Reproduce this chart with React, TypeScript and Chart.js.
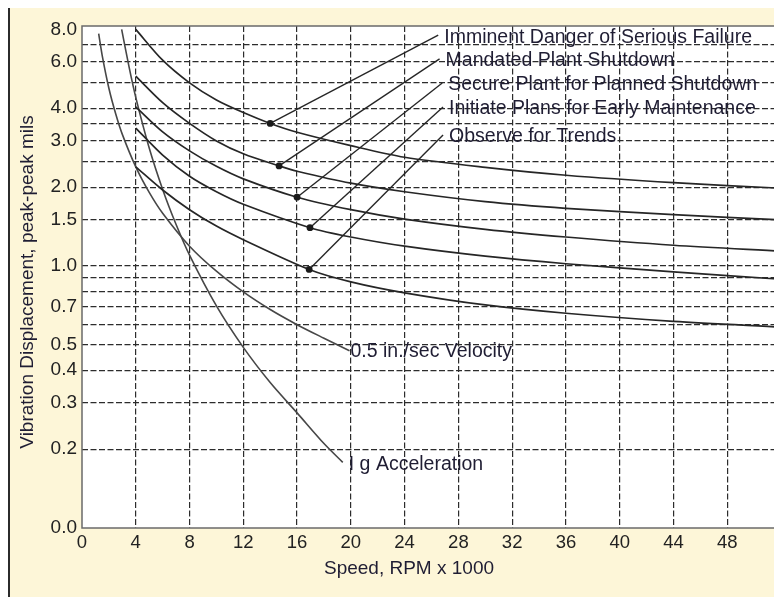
import React, { useEffect, useRef } from 'react';
import { Chart, registerables } from 'chart.js';

Chart.register(...registerables);

// ---------- data ----------
const X_MIN = 0;
const X_MAX = 52;
const Y_MIN = 0.1;
const Y_MAX = 8.24;

const X_TICKS = [0, 4, 8, 12, 16, 20, 24, 28, 32, 36, 40, 44, 48];
const Y_TICK_VALUES = [0.1, 0.2, 0.3, 0.4, 0.5, 0.6, 0.7, 0.8, 0.9, 1.0, 1.5, 2.0, 2.5, 3.0, 3.5, 4.0, 5.0, 6.0, 7.0, 8.0];
const Y_TICK_LABELS = ['0.0', '0.2', '0.3', '0.4', '0.5', '', '0.7', '', '', '1.0', '1.5', '2.0', '', '3.0', '', '4.0', '', '6.0', '', '8.0'];

const X_TITLE = 'Speed, RPM x 1000';
const Y_TITLE = 'Vibration Displacement, peak-peak mils';

const ZONE_NAMES = [
  'Imminent Danger of Serious Failure',
  'Mandated Plant Shutdown',
  'Secure Plant for Planned Shutdown',
  'Initiate Plans for Early Maintenance',
  'Observe for Trends',
];

const DANGER_X = [4, 6, 8, 10, 12, 14, 16, 20, 24, 30, 36, 44, 52];
const DANGER_Y = [8.0, 6.1, 5.0, 4.3, 3.85, 3.5, 3.24, 2.88, 2.6, 2.38, 2.22, 2.08, 1.98];
const SHUTDOWN_X = [4, 6, 8, 10, 12, 14.66, 16, 20, 24, 30, 36, 44, 52];
const SHUTDOWN_Y = [5.3, 4.2, 3.5, 3.0, 2.68, 2.41, 2.3, 2.07, 1.92, 1.76, 1.66, 1.57, 1.5];
const SECURE_X = [4, 6, 8, 10, 12, 16, 20, 24, 30, 36, 44, 52];
const SECURE_Y = [4.05, 3.25, 2.75, 2.4, 2.15, 1.83, 1.64, 1.51, 1.38, 1.29, 1.2, 1.14];
const INITIATE_X = [4, 6, 8, 10, 12, 16.96, 20, 24, 30, 36, 44, 52];
const INITIATE_Y = [3.36, 2.65, 2.2, 1.92, 1.72, 1.4, 1.29, 1.19, 1.09, 1.02, 0.95, 0.89];
const OBSERVE_X = [4, 6, 8, 10, 12, 16.9, 20, 24, 30, 36, 44, 52];
const OBSERVE_Y = [2.39, 1.95, 1.64, 1.42, 1.26, 0.97, 0.87, 0.79, 0.71, 0.66, 0.615, 0.585];

const VELOCITY_LABEL = '0.5 in./sec Velocity';
const VELOCITY_X = [1.24, 1.5, 2, 2.5, 3, 4, 5, 6, 8, 10, 12, 14, 16, 18, 19.9];
const VELOCITY_Y = [7.7, 6.37, 4.77, 3.82, 3.18, 2.39, 1.91, 1.59, 1.19, 0.955, 0.796, 0.682, 0.597, 0.53, 0.475];
const ACCEL_LABEL = 'I g Acceleration';
const ACCEL_X = [2.95, 3.5, 4, 5, 6, 7, 8, 10, 12, 14, 16, 18, 19.4];
const ACCEL_Y = [8.0, 5.75, 4.4, 2.82, 1.96, 1.44, 1.1, 0.704, 0.489, 0.359, 0.275, 0.21, 0.178];

// marker dots on the zone curves and the ends of their leader lines (data units)
const DOT_X = [14.0, 14.66, 16.0, 16.96, 16.9];
const DOT_Y = [3.5, 2.41, 1.83, 1.4, 0.97];
const LEAD_X = [26.5, 26.6, 26.8, 26.86, 26.86];
const LEAD_Y = [7.6, 6.17, 4.99, 4.04, 3.16];

// ---------- styling ----------
const FONT = '"Liberation Sans", Arial, Helvetica, sans-serif';
const TEXT_COLOR = '#1f1d33';
const CURVE_COLOR = '#262626';
const GUIDE_COLOR = '#474747';
const GRID_COLOR = '#2c2c2c';

const zip = (xs: number[], ys: number[]) => xs.map((x, i) => ({ x, y: ys[i] }));

const App = () => {
  const ref = useRef<HTMLCanvasElement | null>(null);

  useEffect(() => {
    document.documentElement.style.overflow = 'hidden';
    document.body.style.overflow = 'hidden';
    const canvas = ref.current;
    if (!canvas) return;

    const zones = [
      [DANGER_X, DANGER_Y],
      [SHUTDOWN_X, SHUTDOWN_Y],
      [SECURE_X, SECURE_Y],
      [INITIATE_X, INITIATE_Y],
      [OBSERVE_X, OBSERVE_Y],
    ];

    const datasets: any[] = zones.map(([xs, ys], i) => ({
      label: ZONE_NAMES[i],
      data: zip(xs, ys),
      borderColor: CURVE_COLOR,
      borderWidth: 1.7,
      pointRadius: 0,
      tension: 0.3,
      fill: false,
    }));
    datasets.push({
      label: VELOCITY_LABEL,
      data: zip(VELOCITY_X, VELOCITY_Y),
      borderColor: GUIDE_COLOR,
      borderWidth: 1.6,
      pointRadius: 0,
      tension: 0.3,
      fill: false,
    });
    datasets.push({
      label: ACCEL_LABEL,
      data: zip(ACCEL_X, ACCEL_Y),
      borderColor: GUIDE_COLOR,
      borderWidth: 1.6,
      pointRadius: 0,
      tension: 0.3,
      fill: false,
    });

    const plotBg = {
      id: 'plotBg',
      beforeDraw(chart: any) {
        const { ctx, chartArea: a } = chart;
        ctx.save();
        ctx.fillStyle = '#ffffff';
        ctx.fillRect(a.left, a.top, a.right - a.left, a.bottom - a.top);
        ctx.restore();
      },
    };

    const annotations = {
      id: 'annotations',
      afterDatasetsDraw(chart: any) {
        const { ctx, chartArea: a } = chart;
        const xs = chart.scales.x;
        const ys = chart.scales.y;
        ctx.save();
        ZONE_NAMES.forEach((name, i) => {
          const x0 = xs.getPixelForValue(DOT_X[i]);
          const y0 = ys.getPixelForValue(DOT_Y[i]);
          const x1 = xs.getPixelForValue(LEAD_X[i]);
          const y1 = ys.getPixelForValue(LEAD_Y[i]);
          ctx.strokeStyle = CURVE_COLOR;
          ctx.lineWidth = 1.4;
          ctx.setLineDash([]);
          ctx.beginPath();
          ctx.moveTo(x0, y0);
          ctx.lineTo(x1, y1);
          ctx.stroke();
          ctx.fillStyle = '#1a1a1a';
          ctx.beginPath();
          ctx.arc(x0, y0, 3.4, 0, Math.PI * 2);
          ctx.fill();
          ctx.fillStyle = TEXT_COLOR;
          ctx.font = `19.5px ${FONT}`;
          ctx.textAlign = 'left';
          ctx.textBaseline = 'middle';
          ctx.fillText(name, x1 + 6, y1 + 2);
        });
        ctx.font = `19.5px ${FONT}`;
        ctx.fillStyle = TEXT_COLOR;
        const vx = xs.getPixelForValue(VELOCITY_X[VELOCITY_X.length - 1]);
        const vy = ys.getPixelForValue(VELOCITY_Y[VELOCITY_Y.length - 1]);
        ctx.fillText(VELOCITY_LABEL, vx + 1, vy + 1);
        const ax = xs.getPixelForValue(ACCEL_X[ACCEL_X.length - 1]);
        const ay = ys.getPixelForValue(ACCEL_Y[ACCEL_Y.length - 1]);
        ctx.fillText(ACCEL_LABEL, ax + 6, ay + 2);
        ctx.strokeStyle = '#6a6a6a';
        ctx.lineWidth = 1.5;
        ctx.strokeRect(a.left, a.top, a.right - a.left, a.bottom - a.top);
        ctx.restore();
      },
      afterDraw(chart: any) {
        const { ctx } = chart;
        ctx.save();
        ctx.fillStyle = TEXT_COLOR;
        ctx.font = `19px ${FONT}`;
        ctx.textAlign = 'center';
        ctx.textBaseline = 'middle';
        ctx.fillText(X_TITLE, 399, 561);
        ctx.translate(18, 274);
        ctx.rotate(-Math.PI / 2);
        ctx.fillText(Y_TITLE, 0, 0);
        ctx.restore();
      },
    };

    const chart = new Chart(canvas, {
      type: 'line',
      data: { datasets },
      plugins: [plotBg, annotations],
      options: {
        animation: false,
        responsive: false,
        devicePixelRatio: 1,
        layout: { padding: { top: 18, right: 1, left: 0, bottom: 0 } },
        plugins: {
          legend: { display: false },
          tooltip: { enabled: false },
          title: { display: false },
        },
        scales: {
          x: {
            type: 'linear',
            min: X_MIN,
            max: X_MAX,
            afterBuildTicks: (s: any) => {
              s.ticks = X_TICKS.map((v) => ({ value: v }));
            },
            afterFit: (s: any) => {
              s.height = 69;
            },
            ticks: {
              autoSkip: false,
              maxRotation: 0,
              padding: 4,
              color: '#222',
              font: { family: FONT, size: 18.5 },
            },
            grid: {
              drawTicks: false,
              color: (c: any) => (c.tick && c.tick.value === 0 ? 'rgba(0,0,0,0)' : GRID_COLOR),
              lineWidth: 1.2,
            },
            border: { display: false, dash: [6, 2.5] },
          },
          y: {
            type: 'logarithmic',
            min: Y_MIN,
            max: Y_MAX,
            afterBuildTicks: (s: any) => {
              s.ticks = Y_TICK_VALUES.map((v) => ({ value: v }));
            },
            afterFit: (s: any) => {
              s.width = 72;
            },
            ticks: {
              autoSkip: false,
              padding: 5,
              color: '#222',
              font: { family: FONT, size: 19 },
              callback: (v: any) => {
                const i = Y_TICK_VALUES.findIndex((t) => Math.abs(t - Number(v)) < 1e-6);
                return i >= 0 ? Y_TICK_LABELS[i] : '';
              },
            },
            grid: {
              drawTicks: false,
              color: (c: any) =>
                c.tick && (Math.abs(c.tick.value - Y_MIN) < 1e-6 || Math.abs(c.tick.value - 8) < 1e-6)
                  ? 'rgba(0,0,0,0)'
                  : GRID_COLOR,
              lineWidth: 1.2,
            },
            border: { display: false, dash: [6, 2.5] },
          },
        },
      } as any,
    });

    return () => {
      chart.destroy();
    };
  }, []);

  return (
    <div
      style={{
        width: 772,
        height: 589,
        background: '#fdf6d8',
        borderLeft: '2px solid #2b2b2b',
      }}
    >
      <canvas ref={ref} width={772} height={589} style={{ display: 'block' }} />
    </div>
  );
};

export default App;
